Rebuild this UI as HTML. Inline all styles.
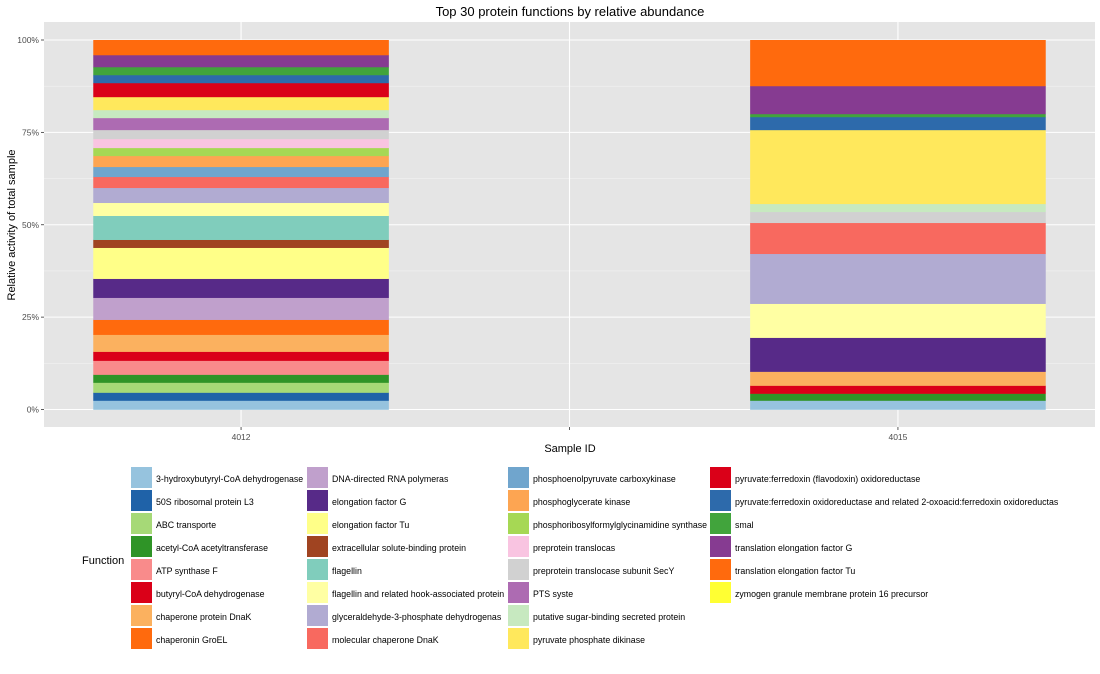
<!DOCTYPE html>
<html><head><meta charset="utf-8">
<style>
body{margin:0;background:#fff;font-family:"Liberation Sans",sans-serif;}
svg text{font-family:"Liberation Sans",sans-serif;}
</style></head>
<body>
<svg id="chart" width="1100" height="669" xmlns="http://www.w3.org/2000/svg">
<rect width="1100" height="669" fill="#fff"/>
<text x="570" y="16" text-anchor="middle" font-size="13" fill="#000">Top 30 protein functions by relative abundance</text>
<rect x="44" y="22" width="1051" height="405" fill="#e5e5e5"/>
<g id="grid"></g>
<g id="bars"></g>
<g id="axes"></g>
<text x="570" y="452" text-anchor="middle" font-size="11">Sample ID</text>
<text transform="translate(15,225) rotate(-90)" text-anchor="middle" font-size="11">Relative activity of total sample</text>
<text x="82" y="564" font-size="11">Function</text>
<g id="legend"></g>
</svg>
<script>
const categories = ["4012","","4015"];
const functions = ["3-hydroxybutyryl-CoA dehydrogenase","50S ribosomal protein L3","ABC transporte","acetyl-CoA acetyltransferase","ATP synthase F","butyryl-CoA dehydrogenase","chaperone protein DnaK","chaperonin GroEL","DNA-directed RNA polymeras","elongation factor G","elongation factor Tu","extracellular solute-binding protein","flagellin","flagellin and related hook-associated protein","glyceraldehyde-3-phosphate dehydrogenas","molecular chaperone DnaK","phosphoenolpyruvate carboxykinase","phosphoglycerate kinase","phosphoribosylformylglycinamidine synthase","preprotein translocas","preprotein translocase subunit SecY","PTS syste","putative sugar-binding secreted protein","pyruvate phosphate dikinase","pyruvate:ferredoxin (flavodoxin) oxidoreductase","pyruvate:ferredoxin oxidoreductase and related 2-oxoacid:ferredoxin oxidoreductas","smal","translation elongation factor G","translation elongation factor Tu","zymogen granule membrane protein 16 precursor"];
const colors = ["#96c3de","#1f62a8","#a6d977","#2f9427","#f98b8b","#da0018","#fbb15f","#ff6a0d","#c0a0cc","#572a88","#ffff88","#a04421","#80cdbc","#ffffa3","#b1abd2","#f8695f","#70a5cd","#fda552","#a6d854","#f9c4e1","#d1d1d1","#ad6bb2","#c7e9c0","#ffe85c","#da0018","#2d6aab","#41a43c","#863b91","#ff6a0d","#ffff33"];
const values4012 = [2.43,2.16,2.70,2.16,3.78,2.43,4.59,4.05,5.95,5.14,8.38,2.16,6.49,3.51,4.05,2.97,2.70,2.97,2.16,2.43,2.43,3.24,2.16,3.51,3.78,2.16,2.16,3.24,4.05,0];
const valuesEmpty = [0,0,0,0,0,0,0,0,0,0,0,0,0,0,0,0,0,0,0,0,0,0,0,0,0,0,0,0,0,0];
const values4015 = [2.43,0,0,1.89,0,2.16,3.78,0,0,9.19,0,0,0,9.19,13.51,8.38,0,0,0,0,2.97,0,2.16,20.0,0,3.51,0.81,7.57,12.43,0];
const yTicks = [0,25,50,75,100];
const yTickLabels = ["0%","25%","50%","75%","100%"];

const NS="http://www.w3.org/2000/svg";
const py0=409.5, py1=40, px0=44, px1=1095;
const y = v => py0 - (py0-py1)*v/100;
const unit = (px1-px0)/(categories.length-1+1.2);
const xC = i => px0 + unit*(i+0.6);
const barW = unit*0.9;
function mk(tag, attrs, parent){const e=document.createElementNS(NS,tag);for(const k in attrs)e.setAttribute(k,attrs[k]);parent.appendChild(e);return e;}
const grid=document.getElementById('grid');
for(let i=0;i<yTicks.length-1;i++){
  const m=mk('line',{x1:px0,x2:px1,y1:y((yTicks[i]+yTicks[i+1])/2),y2:y((yTicks[i]+yTicks[i+1])/2),stroke:'#f2f2f2','stroke-width':0.6},grid);
  
  
}
yTicks.forEach(t=>{
  const l=mk('line',{x1:px0,x2:px1,y1:y(t),y2:y(t),stroke:'#fff','stroke-width':1.1},grid);
  
  
});
categories.forEach((c,i)=>{
  const l=mk('line',{x1:xC(i),x2:xC(i),y1:22,y2:427,stroke:'#fff','stroke-width':1.1},grid);
  
  
});
const bars=document.getElementById('bars');
[values4012,valuesEmpty,values4015].forEach((vals,ci)=>{
  const total=vals.reduce((a,b)=>a+b,0);
  if(total<=0)return;
  let cum=0;
  vals.forEach((v,fi)=>{
    if(v<=0)return;
    const p=v/total*100;
    const r=mk('rect',{x:xC(ci)-barW/2,y:y(cum+p),width:barW,height:y(cum)-y(cum+p)+0.3,fill:colors[fi]},bars);
    
    
    cum+=p;
  });
});
const axes=document.getElementById('axes');
yTicks.forEach((t,i)=>{
  const tx=mk('text',{x:39,y:y(t)+3,'text-anchor':'end','font-size':8.5,fill:'#4d4d4d'},axes);
  tx.textContent=yTickLabels[i];
  
  
  mk('line',{x1:41,x2:44,y1:y(t),y2:y(t),stroke:'#333','stroke-width':0.8},axes);
});
categories.forEach((c,i)=>{
  mk('line',{x1:xC(i),x2:xC(i),y1:427,y2:430,stroke:'#333','stroke-width':0.8},axes);
  const tx=mk('text',{x:xC(i),y:440,'text-anchor':'middle','font-size':8.5,fill:'#4d4d4d'},axes);
  tx.textContent=c;
  
  
});
const leg=document.getElementById('legend');
const colX=[131,307,508,710];
functions.forEach((f,i)=>{
  const col=Math.floor(i/8), row=i%8;
  const g=mk('g',{},leg);
  
  
  mk('rect',{x:colX[col],y:467+row*23,width:21,height:21,fill:colors[i]},g);
  const t=mk('text',{x:colX[col]+25,y:482+row*23,'font-size':8.8,fill:'#000'},g);
  t.textContent=f;
});
</script>
</body></html>
